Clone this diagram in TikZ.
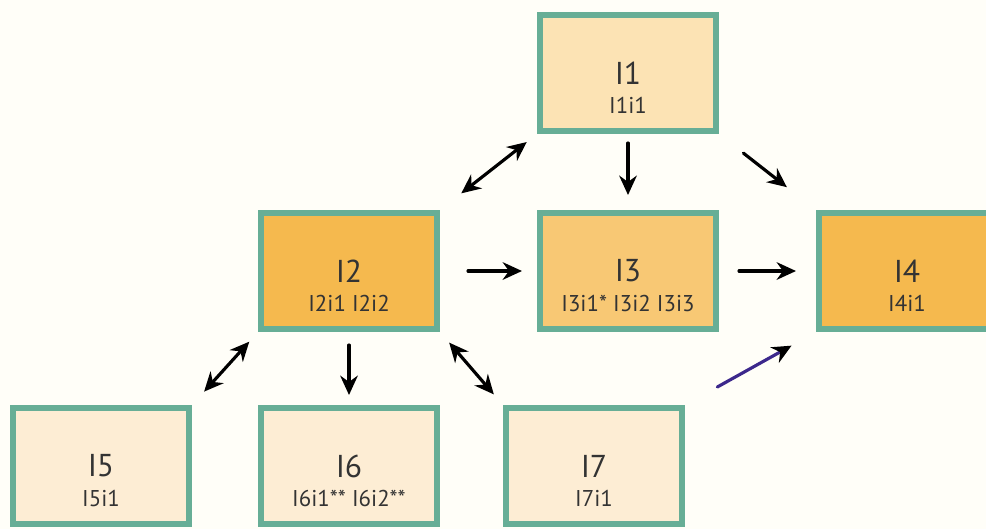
\documentclass[tikz,border=0pt]{standalone}
\usepackage{fontspec}
\setmainfont{PT Sans}
\usetikzlibrary{positioning,arrows.meta}

\definecolor{teal}{RGB}{103,174,150}
\definecolor{bgcream}{RGB}{255,254,248}
\definecolor{paleorange}{RGB}{252,227,180}
\definecolor{midorange}{RGB}{248,200,116}
\definecolor{deeporange}{RGB}{245,185,78}
\definecolor{cream}{RGB}{253,237,212}
\definecolor{navyline}{RGB}{60,40,140}

\begin{document}
\begin{tikzpicture}[cap=round]

    % let's define some key values
    \def\gap{1.94cm}
    \def\sub{0.64cm}

    % Styles
    \tikzstyle{box}=[draw=teal, line width=0.12cm, minimum width=3.52cm, minimum height=2.32cm,
        text=black!80, font=\fontsize{18}{21}\selectfont]
    \tikzstyle{items}=[text=black!80, font=\fontsize{13}{15}\selectfont, inner sep=1pt]
    \tikzstyle{link}=[line width=1.8pt, -{Stealth[length=11pt,width=10pt]}]
    \tikzstyle{both}=[line width=1.8pt, {Stealth[length=11pt,width=10pt]}-{Stealth[length=11pt,width=10pt]}]

    % page
    \fill[bgcream] (0,0) rectangle (19.72,10.58);
    \useasboundingbox (0,0) rectangle (19.72,10.58);

    % boxes
    \node[box, fill=deeporange] (i2) at (6.98,5.16) {I2};
    \node[box, fill=midorange, right=\gap of i2] (i3) {I3};
    \node[box, fill=deeporange, right=\gap of i3] (i4) {I4};
    \node[box, fill=paleorange, above=1.52cm of i3] (i1) {I1};
    \node[box, fill=cream, below=1.46cm of i2] (i6) {I6};
    \node[box, fill=cream, left=1.32cm of i6] (i5) {I5};
    \node[box, fill=cream, right=1.26cm of i6] (i7) {I7};

    % items
    \node[items] (i1i) at ([yshift=-\sub]i1.center) {I1i1};
    \node[items] (i2i) at ([yshift=-\sub]i2.center) {I2i1 I2i2};
    \node[items] (i3i) at ([yshift=-\sub]i3.center) {I3i1* I3i2 I3i3};
    \node[items] (i4i) at ([yshift=-\sub]i4.center) {I4i1};
    \node[items] (i5i) at ([yshift=-\sub]i5.center) {I5i1};
    \node[items] (i6i) at ([yshift=-\sub]i6.center) {I6i1** I6i2**};
    \node[items] (i7i) at ([yshift=-\sub]i7.center) {I7i1};

    % arrows
    \draw[both, shorten <=0.26cm, shorten >=0.54cm] (i1.south west) -- (i2.north east);
    \draw[link, shorten <=0.18cm, shorten >=0.3cm] (i1.south) -- (i3.north);
    \draw[link, shorten <=0.62cm, shorten >=0.74cm] (i1.south east) -- (i4.north west);
    \draw[link, shorten <=0.56cm, shorten >=0.3cm] (i2.east) -- (i3.west);
    \draw[link, shorten <=0.4cm, shorten >=0.4cm] (i3.east) -- (i4.west);
    \draw[both, shorten <=0.26cm, shorten >=0.36cm] (i2.south west) -- (i5.north east);
    \draw[link, shorten <=0.26cm, shorten >=0.2cm] (i2.south) -- (i6.north);
    \draw[both, shorten <=0.28cm, shorten >=0.28cm] (i2.south east) -- (i7.north west);
    \draw[navyline, line width=1.8pt, -{Stealth[length=11pt,width=10pt,black]},
        shorten <=0.74cm, shorten >=0.56cm] (i7.north east) -- (i4.south west);

\end{tikzpicture}
\end{document}
